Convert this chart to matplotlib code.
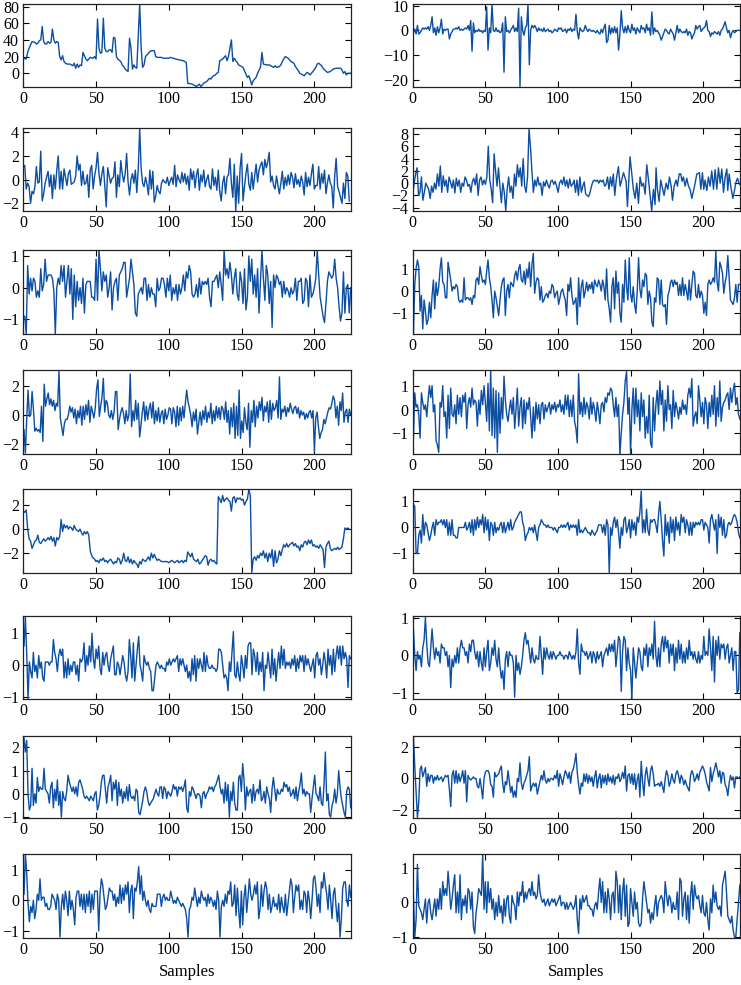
import numpy as np
import matplotlib
matplotlib.use('Agg')
import matplotlib.pyplot as plt
from matplotlib.ticker import MultipleLocator

LINE = '#0b4ea2'
FONT = 'Liberation Serif'

# ---- data (sample index, value) ----
l1 = [(0, 18), (2, 17), (3, 25), (4, 30), (6, 38), (8, 37), (9, 35), (10, 36), (11, 39), (12, 40),
      (13, 56), (14, 38), (15, 35), (16, 35), (17, 38), (18, 36), (19, 37), (20, 53), (21, 40), (22, 36),
      (23, 38), (24, 37), (25, 20), (26, 16), (27, 21), (28, 14), (29, 12), (30, 11), (32, 11), (33, 10),
      (34, 9), (35, 12), (36, 6), (37, 11), (38, 7), (39, 10), (40, 9), (41, 25), (43, 17), (44, 15),
      (46, 19), (48, 18), (49, 20), (50, 17), (51, 65), (52, 30), (53, 24), (54, 25), (55, 66), (56, 30),
      (57, 26), (58, 26), (59, 28), (60, 28), (61, 25), (62, 43), (63, 42), (64, 20), (65, 17), (67, 14),
      (68, 10), (69, 8), (70, 5), (72, 2), (73, 42), (74, 30), (75, 5), (76, 10), (77, 7), (78, 6),
      (80, 83), (81, 30), (82, 7), (83, 10), (84, 20), (85, 22), (87, 26), (88, 27), (90, 27), (91, 20),
      (92, 19), (95, 19), (96, 18), (100, 18), (101, 19), (103, 18), (105, 17), (107, 16), (110, 15), (111, 14),
      (112, 13), (113, -12), (116, -13), (118, -15), (119, -16), (121, -13), (122, -16), (124, -12), (126, -10), (128, -6),
      (129, -7), (130, -4), (132, -2), (133, 0), (134, 1), (135, 15), (137, 17), (138, 19), (139, 21), (140, 15),
      (141, 20), (143, 40), (144, 14), (145, 18), (146, 15), (147, 13), (148, 10), (150, 8), (151, 7), (152, 3),
      (154, -5), (155, -3), (156, -8), (157, -14), (158, -9), (160, -5), (161, 0), (163, 7), (164, 25), (165, 11),
      (167, 10), (169, 10), (170, 9), (172, 7), (173, 9), (174, 7), (176, 8), (177, 10), (178, 14), (180, 20),
      (182, 18), (184, 14), (186, 12), (187, 8), (189, 3), (190, 0), (192, -2), (193, -3), (195, 1), (196, 0),
      (197, -2), (198, 0), (199, 2), (201, 7), (202, 11), (203, 12), (205, 9), (206, 6), (207, 4), (209, 1),
      (211, 2), (213, 5), (215, 6), (218, 6), (219, 4), (220, 0), (221, 2), (222, -2), (223, 0), (225, 0)]

r1 = [-1, 0.5, -1.5, 2, -1.5, -1, 0, 1, 0.5, 1, 0.5, 1.5, 0, 2, 5.5, -1, 1, -2, 1.5, -1, 1, 4.5, -1.5,
      0.5, 0, 0.5, 0.5, -3.5, -1.5, -0.5, 0.5, 0.5, 1, 0.5, 1.5, 0, 0.5, 0, 0.5, 1, 0.5, 2, 0, 4, -8.5,
      3, -1, 0, -0.5, 0.5, -0.5, 0, -1, 0, -0.5, 9.5, -8, 1, -1, 10.5, 0, -0.5, 1, -0.5, 0, -1, -0.5, 3,
      -17, 5.5, -0.5, 0, -1, 0, 1, 2, -0.5, 1, -0.5, 9, -23, 5.5, 0, -2, 1, 2, 10.5, -14, 0, 2, 1, 2, 1,
      -0.5, 1, 0, 0.5, -0.5, 1, -0.5, 0, 0.5, -0.5, 0, -1, -0.5, 0.5, 0, -0.5, 1, 0.5, 1, -0.5, 0, 0.5,
      -1, 0.5, 0, 1, -0.5, 0.5, 0, 6.5, -0.5, -3.5, 1, 0, -0.5, 0, 2, 0.5, -0.5, 0.5, 0, -0.5, 0, -0.5,
      -1, 0, -1, -1.5, 0.5, -1, 1, 2.5, -5, -4, 2, -1.5, 1, -1, 1.5, -1, 1, -8, -1.5, 8, 1, -1, 1.5, -1,
      2, 0, -1, 2.5, 0, 1, -1.5, 1, 0, -1, 2, 0.5, 1, -1, 2.5, 0, 1, -2, 7.5, -1.5, 1, -0.5, 0, -1, -2,
      -4, -2.5, -1, 0.5, 0, -1, -1.5, 0.5, -0.5, -1.5, -4, -1, 2, -1, 0.5, -0.5, -1, -0.5, -1, 0.5, -2,
      -0.5, -1, -3.5, -2, -1, 2, 0.5, 1.5, 2, -0.5, 0.5, 1, 1.5, 4, 0, -0.5, -2.5, -1, -1.5, -0.5, -1,
      -1.5, -0.5, -2, 0, 0.5, 2, 3.5, 1, -1, 0, -3, -1, 0, -1, -0.5, 0, 0, 0]

l2 = [1.0, 1.2, -0.8, -0.3, -0.6, -2.0, -1.0, -1.2, -0.6, 1.1, -0.3, -0.2, 2.4, -1.8, -1.2, -0.3, 0.2, 0.7,
      -0.6, 0.4, -1.6, 0.4, -0.8, 0.8, 2.0, -0.8, 0.7, -0.8, 0.9, 0.2, -0.5, 0.5, 0.8, -0.4, -0.3, -0.2,
      0.3, 2.0, 0.8, 1.3, -0.5, 0.7, -0.4, -0.3, 0.4, -1.5, 0.8, 1.2, -0.8, 0.3, 1.0, 2.3, 0.5, -0.5, 0.5,
      1.1, -0.5, -2.3, 1.0, 0.3, -0.3, 0.1, 0.2, 1.5, -1.5, 0.4, -0.6, 1.6, 0.5, -0.2, 0.5, 2.2, -0.2,
      -1.3, 0.0, 0.5, -0.3, 0.8, -1.1, 0.9, 4.3, 0.9, -0.3, -0.6, 0.2, -0.4, -1.3, 0.8, -0.8, 0.7, -1.9,
      -1.4, -0.5, -1.0, -1.2, -0.3, 0.0, -0.2, -0.3, 0.2, -0.5, -0.1, 0.2, -0.4, 1.2, -0.6, 0.4, 0.0, -0.3,
      0.6, -0.2, 0.5, -0.4, 0.3, -0.9, 0.9, 0.0, 0.7, -0.7, 0.4, 0.9, -0.9, 0.4, -0.2, 0.8, -0.6, 0.0, 0.4,
      -0.6, -0.8, 0.9, -0.5, 0.2, -0.9, 0.8, -1.0, -1.8, -0.3, 0.3, -1.2, 0.2, 0.4, 1.8, -0.3, -1.5, 1.3,
      -2.7, 0.3, -2.0, 1.0, 2.2, -1.8, -0.6, 0.5, 1.3, -0.4, -0.9, 0.6, -0.8, 0.3, 1.3, -0.2, 0.8, 1.2, 1.5,
      0.4, 1.7, 1.0, 1.5, 2.3, -0.2, 0.3, -0.5, -0.8, 0.3, -0.5, -1.2, -0.3, 0.7, -0.8, 0.2, -0.5, 0.4,
      -0.4, 0.6, 0.2, -0.7, 0.5, -0.4, 0.0, -0.6, 0.3, -0.2, -1.3, 0.6, -0.6, 0.2, -0.5, 0.5, 1.3, -0.8,
      -0.5, -0.5, 1.1, -0.8, 0.5, -0.3, 0.8, -1.2, -0.3, 0.4, -0.3, -0.6, -2.4, 0.3, 1.8, -0.6, -1.0, -1.5,
      -2.0, -0.3, -1.6, 0.6, 0.3, -1.8]

r2_head = [-2, 0, 1.5, 2.5, -2, -1.5, 1, -2.8, -1.5, 0, -0.5, -1, -2.5, -0.5, -1.5, 0, -1, 1.5, -0.5, 2.8,
           -1.5, 1.2, -0.5, 0.5, -1.5, 1, 0.2, -0.8, 0.5, -1.6, 0.8, -0.5, 0.5, -1.5, 0, -0.5, 1, 0.5, -0.5,
           -0.2, -1.5, 0.2, 0.8, -0.3, 1.5, -2.0, 0.5, 1, -0.3, 0.5, -0.2, 1, 6, 0.5, -1.0, -3.2, 4.8, 2,
           -0.5, 2.5, -0.5, -3.2, 0, -1.5, -4.5, -1, 1, -1.5, -0.5, -2.5, 1.5, -0.5, 3, 1, 2.5, -0.5, 4,
           -0.5, -1.5, 1, 8.8, 6, 2, -1.5, 0.5, -0.5, 1, -0.3, 0, -2, 0.2, -0.5, 0.5, -0.3, -0.8, 0.3, 0.5,
           -0.2, 0.3, -0.5, -1.5, 0, 0.5, -0.2, 1, -0.5, 0.5, -0.8, 0.7, -0.5, -0.2, 0.5, -1.5, 0.5, -2, 1,
           -1.5, -0.5, 0.2, -1.8, -2, -2.2, -1.5, -0.5, 0.3, 0.5, 0.3, 0.5, 0, 0.5, 0.2, 0.5, -0.5, -0.2, 1,
           -1, 1, -0.5, 1.5, -2, 0.5]
r2_tail = [(141.5, 2.7), (142.7, -0.5), (145, 1.7), (146.8, 0.3), (147.7, -3.8), (149.5, 4.3), (150.9, 1.0),
           (151.8, -1.0), (153, -2.5), (154.1, 0), (155.3, -3.3), (156.4, 1.0), (157.6, -0.5), (158.7, 0),
           (159.9, -1.8), (161, 3.0), (162.2, 0.5), (163.3, -2.0), (164.4, -4.5), (165.6, -1.0), (166.7, -3.5),
           (167.4, 2.5), (168.3, -1.0), (169.5, -3), (170.6, 0.5), (172, -1.0), (172.9, -2), (174.3, 0),
           (175.5, -1), (176.6, 1.0), (177.8, -0.5), (178.7, -2.8), (179.8, -0.5), (181.2, 0.5), (182.1, -0.5),
           (183.3, 1.5), (184.4, 1.5), (185.3, 0.3), (186.2, 1.0), (187.4, -0.5), (188.5, 0.8), (189.7, -0.5),
           (190.8, -1.0), (192, -2.5), (193.1, -1.3), (194.3, 0), (195.4, 1.5), (196.6, 1.6), (197.2, 1.7),
           (198.2, -1.0), (199.3, 1.7), (200.2, -1.0), (201.1, 0.5), (202.3, -1.2), (203.4, 1.0), (204.6, -0.5),
           (205.7, 2), (206.9, -1.0), (208, 2.2), (209.2, -1.0), (210.3, 2.5), (211.5, 0), (212.6, 2.3),
           (213.8, -1.5), (214.9, 1), (216.1, 2.3), (216.7, -1.2), (217.7, 1.5), (218.8, -0.5), (220.2, -2.5),
           (221.1, -1.5), (222.2, 0), (223.4, 0.8), (224.8, -0.2)]

l3 = [-0.9, -0.9, -1.46, 0.7, -0.2, 0.3, -0.1, 0.3, 0.2, -0.3, -0.1, -0.3, 0.6, -0.1, 0.1, 0.9, 0.2, 0.4,
      0.4, 0.4, 0.3, -0.1, -1.46, 0.0, 0.3, 0.1, 0.7, 0.2, 0.7, -0.3, 0.2, 0.7, -0.2, 0.6, -1.0, 0.4, -0.6,
      0.2, -0.4, 0.0, -0.5, 0.3, -0.8, 0.1, 0.2, 0.2, 0.2, -0.3, -0.3, -0.4, 0.9, -0.4, 1.19, 0.6, -0.1,
      0.5, 0.2, 0.4, -0.3, 0.0, 0.5, -0.7, 0.0, 0.2, 0.3, -0.4, 0.4, 0.5, 0.6, 0.8, 0.8, -0.3, 0.0, 0.3,
      0.9, 0.5, 0.1, -0.8, -0.9, -0.2, -0.1, 0.0, -0.2, 0.3, 0.3, -0.4, 0.1, -0.3, 0.0, -0.2, -0.2, -0.6,
      0.3, -0.1, 0.0, 0.3, 0.3, 0.1, -0.3, 0.3, -0.1, 0.4, -0.4, 0.0, -0.2, 0.1, -0.4, 0.1, -0.2, 0.0, 0.4,
      -0.1, 0.5, 0.3, 0.7, 0.5, -0.2, -0.3, -0.2, 0.1, -0.3, 0.3, -0.2, 0.2, 0.1, 0.2, 0.1, 0.3, -0.3, -0.6,
      0.2, 0.2, 0.3, 0.4, 0.0, 0.5, 0.1, -0.4, 1.19, 0.4, 0.6, 0.3, 0.8, 0.4, -0.2, 0.3, 0.6, -0.2, -0.4,
      0.5, 0.2, -0.5, 0.6, -0.7, -0.3, 1.0, 0.2, 0.9, -0.2, 0.4, -0.3, 0.6, -0.8, 0.2, 1.19, 0.3, -0.4, 0.7,
      0.4, -0.5, 0.2, -1.25, 0.4, 0.0, 0.4, 0.3, 0.1, 0.2, -0.3, 0.2, -0.2, 0.0, -0.1, -0.3, 0.0, -0.2,
      -0.1, 0.3, -0.4, 0.2, 0.2, 0.3, -0.5, -0.4, 0.3, 0.2, -0.6, 0.4, -0.3, -0.2, 0.0, 0.3, 1.19, 0.4,
      -0.3, -0.6, -0.9, -1.1, -0.5, 0.2, 0.5, 0.4, 0.3, 0.4, 0.9, 0.3, 0.0, -0.6, -1.05, -0.8, 0.5, -0.8,
      0.0, 0.1, -0.8, 0.0]

r3 = [-1.9, 0.3, 1.0, 1.4, 1.1, -0.9, -0.2, -1.7, -0.4, -0.9, -1.5, -1.3, -0.5, -1.2, -0.2, 0.5, -0.8, 0.4,
      -0.2, 0.2, 1.0, 1.5, 0.4, 0.3, -0.3, -0.3, 1.3, 0.9, 0.5, 0.0, 0.2, 0.1, 0.3, 0.2, -0.4, -0.5, -0.4,
      -0.5, 0.6, -0.4, -0.3, -0.3, -0.4, -0.3, -0.6, -0.2, -0.3, 0.5, 0.6, 0.3, 1.1, 0.7, 0.4, 0.5, 0.3,
      0.9, 1.4, 0.6, 0.2, -0.4, -1.2, 0.0, -0.3, -0.7, -1.1, -0.4, 0.2, 0.5, 0.6, -1.1, 0.0, 0.3, -0.3,
      0.4, 0.3, 0.2, 0.7, 0.9, 0.5, 1.0, 1.2, 0.5, 0.4, 0.9, 0.3, 1.0, 0.6, 1.3, 0.2, 1.2, 1.7, -0.1, 0.4,
      0.6, 0.5, -0.4, 0.2, -0.5, -0.4, -0.2, -0.1, -0.3, 0.0, -0.1, 0.3, 0.2, -0.3, -0.1, 0.0, -0.6, -0.3,
      0.0, 0.1, -0.2, -0.4, -1.1, 0.3, 0.0, 0.6, -0.2, -0.6, -0.5, -0.3, -1.5, 0.6, -0.7, 0.2, 0.5, -0.3,
      0.0, 0.4, 0.0, 0.3, 0.1, 0.4, -0.1, 0.5, 0.3, 0.2, 0.5, 0.3, 0.0, 0.5, 0.2, -0.4, 1.0, -0.4, -0.8,
      -1.4, 0.2, 0.6, -0.8, 0.9, -0.1, 0.4, -1.0, -1.4, 0.3, -0.5, 1.4, 0.2, -0.4, 1.5, -0.1, -0.5, 0.2,
      -0.6, -1.0, 0.0, 1.5, 0.1, -0.3, 0.5, 0.2, 0.8, 0.7, -0.6, 0.0, -0.3, -1.4, -1.6, -0.3, -0.5, 0.6,
      0.5, -0.6, 0.5, -0.6, -0.7, -0.6, -1.5, -0.2, 0.0, 0.4, 0.5, 0.2, 0.5, 0.3, 0.4, -0.2, 0.3, -0.2,
      0.6, -0.2, 0.3, 0.0, -0.4, 0.5, -0.4, 0.3, 0.9, 0.8, -0.2, -0.3, 0.3, -0.3, 0.0, -0.2, -1.0, -0.5,
      -1.1, 0.3, 0.5, 0.3, 0.4, 0.6, 0.4, 1.8, 0.4, 0.0, 1.3, 1.1, 0.8, -0.1, 0.4, 0.7, 1.6, 0.6, -0.4,
      -0.5, -0.6, -0.3, 0.3, -0.5, 0.3, 0.3]

l4 = [-1.0, -2.6, -0.3, 1.7, -0.1, 0.0, 1.6, 0.4, -1.1, -0.9, -1.1, -1.0, -1.2, 0.6, -1.8, 2.1, 0.6, 1.1,
      1.5, 0.7, 1.1, 0.6, 1.0, 0.3, 0.8, 0.6, 3.0, -0.2, -0.8, -1.4, -0.6, -0.3, -0.3, 0.0, 0.6, 0.2, 0.5,
      -0.2, 0.4, -0.6, 0.3, -0.2, 0.6, -0.7, 0.6, -0.3, 0.7, 0.0, 1.0, -0.5, 0.6, 0.2, -0.2, 0.5, 1.8, 2.4,
      -0.1, 0.6, 1.2, 2.5, 0.2, 1.0, 0.8, 0.0, -0.2, 0.3, -0.3, 0.2, 1.6, 1.6, -1.0, -0.3, 0.2, 0.5, 0.1,
      -0.6, 0.3, -0.4, 0.0, 2.8, -0.8, 0.3, -0.4, 1.0, -0.3, 0.8, -1.5, -0.7, 0.2, 0.9, -0.4, 0.6, -0.3,
      0.4, 0.8, -0.2, 0.9, -0.6, 0.3, -0.4, 0.5, -0.5, 0.1, 0.3, -0.6, 0.4, -0.3, 0.0, 0.5, 0.4, -0.6, 0.5,
      0.2, -0.8, 0.6, -0.7, 0.5, -0.4, 0.6, -0.2, 0.8, 1.7, 0.9, 0.5, 0.0, -0.8, 0.2, -0.4, 0.4, -1.3, -0.5,
      0.2, -0.7, 0.3, -0.3, 0.6, -0.5, 0.2, -0.2, 0.8, -0.6, 0.3, -0.4, 0.6, -0.2, 0.5, -0.3, 0.6, 0.4,
      -0.3, 0.9, -0.5, 0.3, -1.3, 0.5, -0.8, 0.8, -1.6, 0.6, -1.4, 1.7, -1.6, -0.4, -1.2, 0.5, -0.5, -1.0,
      0.8, -2.2, 0.3, -0.5, 1.0, -0.8, 0.6, -0.2, 0.9, 0.3, 1.2, -0.4, 0.6, 0.2, 0.9, -0.5, 1.0, -0.3, 0.8,
      0.3, 0.5, 1.0, -0.2, 2.6, -0.3, 0.4, 0.2, 0.6, -0.1, 0.5, 0.2, 0.8, 0.4, 0.1, 0.5, 0.6, 0.1, 0.5,
      -0.2, 0.3, 0.0, 0.2, -0.3, 0.1, -0.2, 0.2, 0.3, -0.2, 0.3, -2.5, -0.2, 0.2, -0.8, -1.6, -1.2, -1.0,
      -0.3, -0.6, -0.2, 0.2, 0.5, 0.4, 0.8, 1.3, 1.0, -0.2, 0.6, -0.7, 0.9, 0.3, 1.5, -0.5, 0.2, 0.4, -0.5,
      0.4, 0.0]

r4 = [-1.2, 0.7, 0.1, 0.2, -0.2, -1.2, 0.7, 0.3, 0.0, 0.2, -0.3, 0.4, 1.0, 0.5, 1.0, -0.1, 0.2, -1.3, -1.5,
      -1.8, 0.3, 0.1, 1.0, -0.3, -0.1, -1.2, 0.6, -0.8, 0.9, -0.2, -0.3, 0.2, -0.6, 0.6, -0.2, 0.5, -0.3,
      0.6, 0.3, 0.7, -0.8, 0.2, 0.5, 0.1, 0.9, 0.2, 0.4, 0.3, -0.7, 0.4, -0.2, 0.8, 0.2, 1.0, 0.3, -0.5,
      1.1, -0.9, 1.7, -1.1, 0.9, -1.2, 0.8, -1.8, 0.7, -1.0, 0.5, -0.4, 1.4, 0.4, -0.2, -0.5, 0.0, 0.4,
      -0.2, 0.5, -0.8, 0.0, 0.9, -0.7, 0.1, 0.5, -0.8, 0.4, -0.6, 0.3, 0.0, 0.5, -0.3, -1.2, 0.1, -0.9, 0.3,
      -0.4, 0.2, -0.6, 0.2, 0.3, -0.4, 0.2, -0.1, 0.1, 0.3, -0.2, 0.2, 0.0, 0.3, -0.1, 0.2, 0.1, 0.4, -0.1,
      0.2, -0.2, 0.6, 0.0, 0.6, -0.3, 0.4, -0.3, 0.6, -0.5, -0.8, -1.4, 1.5, -0.2, 0.3, -0.3, 0.5, -0.2,
      0.3, 0.1, -0.4, 0.5, -0.2, 0.3, 0.0, -0.5, 0.3, -0.1, -0.6, 0.2, 0.3, -0.1, 0.5, 0.3, 0.7, 0.6, 0.9,
      0.8, 0.2, -0.3, 0.5, -0.3, 0.2, -1.9, -1.0, -0.2, 0.3, 1.2, 1.6, -0.2, 0.5, -1.9, 0.0, 0.9, -0.6, 0.9,
      -0.3, 0.4, -0.9, 0.7, -0.3, 0.4, -1.2, -0.3, -1.0, 0.6, -1.4, -1.6, 0.5, -0.9, 0.2, 0.8, -0.2, 1.2,
      0.2, 0.8, -0.9, 0.4, -0.5, 1.0, 0.0, 0.2, -0.8, 0.8, -0.3, 0.3, 0.0, -0.4, 0.1, -0.2, 0.4, 0.0, 0.2,
      -0.2, 0.6, 0.9, 0.5, 1.3, -0.7, -0.3, -0.1, -0.6, 1.0, 0.4, -0.3, 0.3, -0.6, 0.5, 0.2, -0.8, 0.3,
      -0.3, 0.6, -0.2, 1.0, -0.7, 0.5, -0.3, 1.2, -0.5, 0.1, 0.3, 0.4, 0.6, 0.7, 0.0, 0.9, 0.3, 0.8, 1.1,
      0.2, 0.5, -0.2, -0.4]

l5 = [1.5, 1.4, 1.6, 0.0, -0.8, -1.0, -1.6, -1.3, -1.0, -0.9, -0.5, -1.1, -1.2, -1.0, -0.8, -1.0, -0.9,
      -0.7, -0.9, -0.6, -1.0, -0.7, -1.4, -0.7, -0.9, -0.6, 0.8, -0.2, 0.4, 0.1, 0.3, 0.0, 0.2, 0.1, -0.1,
      0.3, 0.0, -0.1, -0.2, 0.0, -0.3, -0.5, -0.2, -0.4, -0.2, -0.5, -1.8, -2.2, -2.4, -2.5, -2.7, -2.6,
      -2.8, -2.5, -2.6, -2.4, -2.7, -2.6, -2.8, -2.6, -2.5, -2.7, -2.9, -2.7, -2.8, -2.4, -2.5, -2.9, -2.6,
      -2.0, -2.6, -2.7, -2.3, -2.8, -2.5, -2.9, -2.6, -2.8, -2.9, -3.2, -2.7, -2.9, -2.5, -2.6, -2.7, -2.5,
      -2.3, -2.6, -2.0, -2.4, -2.1, -2.4, -2.6, -2.5, -2.6, -2.7, -2.7, -2.7, -2.7, -2.7, -2.8, -2.7, -2.6,
      -2.7, -2.8, -2.7, -2.6, -2.8, -2.7, -2.6, -2.8, -2.6, -2.7, -1.9, -2.1, -2.3, -2.0, -2.5, -2.6, -2.7,
      -2.5, -2.9, -2.8, -2.6, -2.4, -2.2, -2.3, -3.0, -2.6, -2.5, -2.7, -2.6, -2.8, -2.9, 2.7, 2.5, 2.2,
      2.8, 2.3, 2.5, 2.6, 2.4, 2.3, 1.5, 2.6, 2.7, 2.2, 2.6, 2.5, 2.6, 2.4, 2.5, 2.0, 2.3, 2.5, 3.3, 2.8,
      -3.6, -2.5, -2.3, -2.6, -2.2, -2.4, -2.0, -2.2, -1.8, -2.4, -2.0, -2.7, -2.0, -2.4, -1.7, -3.1, -1.8,
      -2.8, -2.5, -1.8, -2.2, -1.7, -1.3, -1.5, -1.2, -1.5, -1.3, -1.2, -1.1, -1.4, -1.2, -1.5, -1.4, -1.8,
      -1.3, -1.5, -1.1, -1.0, -1.3, -0.9, -1.2, -0.9, -1.4, -1.3, -1.5, -1.4, -1.6, -1.3, -1.5, -1.7, -3.2,
      -1.5, -1.2, -1.0, -1.6, -1.8, -1.7, -1.6, -1.7, -1.5, -1.7, -1.6, -1.5, -0.8, 0.1, 0.0, 0.1, 0.0]

r5 = [0.9, 0.8, -1.0, -1.0, -0.3, -0.1, -0.6, 0.5, -0.3, 0.2, 0.1, -0.2, -0.5, -0.3, 0.0, 0.2, -0.3, 0.3,
      0.1, 0.2, 0.2, 0.3, 0.1, 0.3, 0.0, 0.3, -0.3, 0.2, -0.3, 0.3, -0.3, -0.3, -0.4, -0.4, 0.0, 0.0, 0.0,
      0.0, 0.0, 0.2, -0.1, 0.0, 0.2, -0.2, 0.3, -0.3, 0.3, -0.1, 0.4, 0.0, 0.3, 0.1, 0.5, -0.2, 0.4, -0.1,
      0.3, -0.5, 0.2, 0.1, -0.3, 0.2, -0.2, 0.0, -0.1, 0.1, 0.2, -0.2, 0.2, -0.2, 0.0, 0.2, -0.1, 0.3,
      -0.1, 0.0, 0.2, 0.3, 0.4, 0.5, 0.6, 0.6, 0.2, 0.0, -0.5, -0.3, -0.2, 0.0, -0.1, 0.0, -0.2, 0.1, -0.2,
      -0.5, 0.0, 0.1, 0.3, 0.2, 0.1, 0.1, 0.0, 0.1, 0.0, 0.0, 0.0, -0.1, 0.0, -0.1, -0.2, 0.0, 0.0, 0.1,
      0.0, 0.1, 0.0, 0.1, 0.2, -0.1, 0.1, 0.0, 0.1, 0.0, 0.1, -0.3, 0.3, -0.2, -0.1, -0.2, -0.1, 0.0, -0.1,
      -0.2, -0.2, -0.3, -0.1, -0.2, -0.3, -0.2, -0.1, 0.1, 0.1, 0.1, -0.2, 0.1, -0.3, 0.3, 0.1, -1.75, 0.0,
      -0.3, 0.2, 0.4, 0.0, 0.3, -0.2, -0.8, 0.0, -0.3, 0.3, 0.4, -0.2, 0.0, 0.3, -0.4, 0.3, -0.1, 0.2, -0.3,
      0.4, 0.2, 0.6, 1.4, -0.2, 0.3, -0.2, 0.7, -0.1, -0.3, 0.3, 0.2, 0.3, 0.3, 0.1, -0.2, 0.5, 1.0, 0.3,
      -0.5, -1.1, 0.5, -0.3, 0.2, -0.6, 0.4, -0.2, 0.3, -0.5, 0.4, -0.1, 0.2, -0.3, 0.5, 0.2, 0.4, -0.2,
      0.3, 0.1, -0.3, 0.2, -0.3, 0.2, 0.0, 0.2, 0.1, 0.2, 0.1, 0.3, 0.3, -0.1, 0.2, 0.1, 0.0, -0.6, 0.3,
      0.5, 0.2, -0.1, 0.3, -1.0, 0.5, 0.0, 0.4, -0.3, 0.3, -0.4, -0.3, 0.1, 0.2, 0.1, 0.2, 0.4, 0.5, 0.4,
      0.2, -0.2, -0.4]

l6 = [0.6, 1.5, 0.4, -1.05, 0.1, -0.2, -0.4, 0.4, -0.2, 0.0, -0.4, 0.3, -0.1, 0.1, -0.4, -0.5, 0.1, 0.1,
      0.1, 0.0, 0.1, 0.1, 0.8, 0.4, 0.2, -0.2, 0.3, 0.5, 0.3, 0.5, -0.4, 0.1, -0.4, 0.2, -0.3, 0.0, -0.2,
      0.1, 0.1, -0.3, 0.0, -0.5, 0.2, 0.1, 0.2, 0.7, -0.2, 0.3, 0.0, 0.6, 0.1, 1.0, 0.2, -0.1, 0.5, 0.2,
      0.6, -0.1, -0.3, 0.4, 0.0, 0.3, 0.4, 0.0, -0.2, 0.2, 0.4, 0.6, -0.3, -0.3, 0.1, 0.0, -0.3, 0.0, 0.3,
      0.1, -0.3, -0.5, -0.2, 0.8, 0.3, -0.4, 0.7, -0.5, 0.0, 0.5, 0.9, 0.0, -0.2, -0.5, 0.3, 0.1, 0.0, 0.1,
      -0.1, -0.2, -0.8, -0.8, -0.4, 0.0, 0.1, 0.0, -0.1, 0.0, -0.1, -0.1, -0.2, 0.1, 0.0, 0.2, 0.0, 0.1,
      0.2, 0.1, 0.2, 0.3, -0.2, 0.2, 0.0, 0.2, 0.0, -0.2, 0.0, -0.4, -0.2, -0.5, 0.2, -0.3, 0.3, -0.5, 0.2,
      -0.1, 0.2, 0.0, -0.2, 0.4, -0.2, 0.3, 0.0, -0.1, -0.1, 0.0, -0.1, -0.1, -0.2, -0.1, 0.5, 0.5, 0.4,
      0.0, -0.4, -0.3, -0.4, -0.8, 0.1, -0.2, 0.4, 1.05, -0.3, -0.4, 0.1, -0.3, -0.5, 0.3, 0.0, -0.4, 0.3,
      -0.1, 0.6, 0.7, 0.7, -0.3, 0.5, 0.3, -0.2, 0.4, -0.3, 0.1, -0.2, 0.4, -0.8, 0.0, -0.1, 0.4, 0.0,
      -0.4, 0.5, -0.3, 0.2, -0.5, 0.0, 0.4, -0.1, 0.6, 0.0, 0.5, -0.1, 0.1, 0.0, 0.1, -0.1, 0.2, 0.0, 0.3,
      -0.2, 0.2, -0.1, 0.3, 0.1, 0.3, -0.2, 0.3, 0.0, 0.2, 0.0, -0.2, 0.0, 0.2, -0.4, 0.3, 0.4, 0.0, 0.2,
      -0.3, 0.0, 0.4, 0.1, -0.4, 0.5, 0.0, 0.3, -0.3, 0.5, -0.2, 0.3, 0.6, 0.2, 0.6, 0.0, 0.6, 0.2, 0.4,
      0.2, -0.7, 0.3, 0.2]

r6 = [0.7, 0.0, -0.4, 0.1, -0.1, 0.0, -0.3, 0.2, 0.4, 1.0, 0.3, -0.2, -0.3, 0.2, 0.7, 0.2, -0.1, 0.2, 0.0,
      0.1, -0.2, 0.3, 0.2, 0.2, 0.0, 0.1, -0.3, 0.0, -0.85, -0.1, -0.3, 0.0, -0.2, 0.2, -0.2, 0.2, 0.4,
      0.2, 0.2, 0.0, 0.1, -0.2, 0.3, 0.1, 0.4, 0.4, 0.1, -0.1, 0.1, -0.3, 0.1, -0.2, -0.4, 0.2, -0.3, 0.1,
      0.4, -0.4, -0.2, 0.2, 0.0, 0.4, -0.1, -0.3, 0.2, -0.3, -0.6, -0.4, -0.9, -0.1, 0.1, -0.3, 0.1, 0.0,
      0.0, -0.2, -1.1, 0.0, -0.4, -0.2, -0.5, -0.3, 0.0, 0.4, 0.6, 0.3, 0.4, 0.1, -0.2, 0.2, -0.1, -0.2,
      0.0, -0.1, -0.1, 0.5, 0.0, -0.5, 0.2, -0.1, 0.2, 0.0, -0.1, 0.1, -0.1, 0.1, 0.0, -0.1, 0.0, 0.0,
      0.1, 0.0, 0.0, -0.1, 0.0, 0.0, -0.1, 0.1, 0.0, -0.1, 0.0, -0.1, 0.1, 0.7, -0.2, -0.5, 0.3, 0.1, 0.1,
      0.0, 0.1, -0.1, 0.0, 0.1, -0.2, 0.1, 0.0, -0.2, 0.1, -0.1, 0.0, 0.1, -0.3, 0.0, 0.1, 0.2, 0.0, 0.3,
      0.1, 0.3, 0.1, 0.4, -0.3, 0.1, 0.5, 0.4, -0.95, 0.1, 0.5, 0.4, -0.4, 0.2, -0.2, -0.4, -1.15, 0.2,
      -0.2, -0.6, -0.2, 0.2, 0.1, -0.3, -0.4, 0.2, 0.0, 0.3, -0.3, 0.2, 0.0, 0.3, -0.1, 0.9, 0.0, -0.3,
      0.2, -0.3, 0.3, 0.5, 0.1, 0.5, 0.2, 0.4, -0.2, 0.3, 0.0, 0.3, -0.4, 0.2, -0.2, 0.4, -0.1, 0.3, -0.2,
      0.1, -0.2, 0.2, -0.1, 0.4, 0.0, 0.1, -0.1, 0.1, -0.1, -0.2, 0.1, -0.2, 0.0, -0.1, 0.5, 0.0, 0.1, 0.0,
      0.7, 0.2, -0.4, 0.5, -0.7, 0.4, 0.0, 0.5, -0.1, 0.3, 0.2, 0.3, -0.1, 0.2, 0.3, -0.2, 0.0, 0.2, -0.4,
      0.1, 0.1, -1.0, -0.9, 0.6]

l7 = [2.4, 1.8, 2.3, 0.0, -0.7, -0.5, 1.1, -0.5, 0.0, -0.4, 0.7, 0.1, 0.3, 0.2, 0.2, 1.1, 0.2, 0.1, 0.0,
      -0.4, 0.3, 0.5, -0.6, 0.2, -0.3, 0.6, -0.5, 0.1, -1.0, 0.1, -0.2, -0.3, 0.1, 0.8, 0.5, 0.3, 0.1, 0.3,
      0.0, 0.3, -0.1, 0.5, 0.6, 0.4, 0.2, -0.1, -0.2, -0.1, -0.2, -0.3, -0.1, -0.2, -0.3, 0.0, 0.1, -0.7,
      -0.5, -0.1, 0.5, 0.8, 0.8, 0.2, -0.4, 0.3, 0.5, 0.8, -0.3, 0.5, 0.2, 0.6, -0.5, 0.5, -0.1, 0.2, -0.4,
      0.1, -0.2, 0.3, -0.3, 0.4, -0.1, -0.2, -0.1, -0.3, 0.2, 0.1, -0.8, -0.9, -0.6, -0.3, 0.1, 0.3, 0.1,
      -0.3, -0.5, -0.4, -0.3, -0.2, 0.0, 0.2, 0.0, -0.1, 0.3, 0.3, -0.2, 0.3, 0.2, -0.2, 0.1, 0.0, -0.1,
      0.1, 0.4, 0.2, 0.3, -0.1, 0.3, 0.2, 0.3, 0.1, 0.3, 0.6, -0.6, -0.8, 0.1, -0.1, 0.3, 0.2, 0.0, -0.2,
      0.0, 0.0, -0.1, -0.6, 0.0, 0.1, -0.2, 0.0, 0.1, 0.3, 0.2, 0.3, 0.1, 0.3, 0.4, 0.6, 0.8, 0.3, 0.0,
      0.2, -0.4, 0.5, -0.3, 0.4, -1.0, 0.1, -0.3, 0.5, -0.4, -0.7, -0.7, 0.7, 0.8, 0.1, 1.3, 0.6, -0.7,
      0.3, -0.1, 0.1, 0.2, -0.4, 0.4, -0.3, 0.1, 0.2, 0.0, 0.6, -0.3, -0.2, 0.1, -0.4, 0.3, 0.0, -0.2,
      -0.8, 0.2, 0.7, 0.2, -0.3, 0.2, 0.0, 0.0, 0.2, 0.1, 0.5, 0.3, 0.4, 0.1, 0.3, -0.1, 0.0, 0.2, -0.2,
      0.3, -0.3, 0.1, 0.4, 0.9, 0.0, 0.2, -0.1, 0.1, 0.0, 0.0, -0.8, -0.2, 0.3, 0.8, 0.0, -0.1, -0.3, 0.3,
      -0.4, -0.5, 0.4, 1.8, -0.3, 0.0, -0.9, -1.0, -0.5, -0.3, 0.2, -0.4, 0.0, 1.0, 0.3, -0.2, -0.5, -0.8,
      -1.0, 0.1, 0.3, 0.2, -0.6]

r7 = [2.7, 0.8, -0.9, -2.5, -1.5, 0.6, 0.8, 0.1, 0.4, 0.7, -0.5, 0.3, -0.2, 0.2, 0.2, -0.3, 0.1, -0.1, 0.2,
      -0.1, 0.0, 0.1, -0.2, 0.0, 0.2, 0.1, 0.2, -0.7, -1.8, 0.2, 0.5, -0.3, 0.5, -0.3, 0.3, -0.2, 0.1, 0.5,
      -0.3, 0.5, -1.5, 0.2, 0.0, -0.1, 0.0, 0.1, 0.0, 0.0, -0.5, -0.6, 0.0, -0.6, -1.3, 0.0, 0.4, 0.5, 0.5,
      0.3, -0.4, -0.5, -1.2, 0.4, 0.1, 0.2, 0.3, 0.6, 0.8, -0.3, -0.9, -0.2, -0.4, 0.5, -0.2, -0.9, -0.5,
      -1.2, -0.8, -1.2, 0.0, -0.2, 1.0, -0.3, -0.7, -0.3, -0.1, 0.2, 0.5, 1.4, -0.8, -0.5, -0.3, -0.5, -0.3,
      -1.0, -0.6, -0.2, 0.2, -0.1, 0.5, -0.1, -0.3, 0.0, -0.2, 0.0, 0.0, -0.1, 0.2, 0.0, 0.5, -0.5, 0.3,
      0.0, -0.4, 0.1, 0.5, 0.3, 0.0, 0.4, -0.3, 0.4, 0.6, 1.0, 1.6, 0.4, -0.4, -1.0, -0.3, -0.5, 0.3, -0.2,
      0.3, -0.3, 0.2, -0.2, 0.1, -0.5, 0.1, 0.5, -0.6, 0.0, 0.3, -0.6, 0.2, -0.3, 0.2, -0.4, 0.3, -0.2,
      0.1, -0.3, 0.2, -0.4, 0.1, 0.0, 0.3, -0.2, 0.0, 0.4, 0.0, 0.8, -0.8, 0.2, 0.3, -0.3, 0.3, -0.4, 0.3,
      -0.7, -0.1, 0.3, -1.2, 1.1, -0.2, -1.1, 0.2, 0.7, 0.0, -0.5, 0.5, 0.8, 0.3, -0.5, -0.4, -0.4, -0.3,
      -0.5, -0.2, -0.5, -0.9, 0.0, 0.5, 0.2, -0.5, -0.2, 0.3, -0.1, -0.3, 0.3, 0.5, 0.2, -0.3, 0.2, 0.0,
      -0.4, -0.1, -0.4, -0.6, -0.8, 0.2, 0.5, 0.3, -0.2, 0.0, 0.3, -0.1, 0.4, 0.6, 0.8, 0.6, 0.3, -0.2,
      -0.5, -0.8, 0.7, -0.2, 0.3, 0.6, 1.0, 0.6, 0.1, 0.5, -0.3, 0.4, 0.3, -0.4, -0.6, -1.1, -0.3, 0.2,
      -0.1, 0.1, -0.6, 0.1, 0.1, 0.0, 0.1]

l8 = [0.2, 1.5, 0.9, -0.1, -0.7, -0.2, -0.4, 0.0, -0.6, -0.3, 0.2, 0.0, 0.7, 0.0, 0.1, 0.1, -0.2, -0.1,
      -0.3, -0.3, -0.2, 0.2, 0.1, 0.0, -0.3, 0.2, 0.0, -1.2, -0.2, 0.2, -0.3, 0.3, 0.0, -0.5, 0.3, -0.3,
      0.0, -0.3, -0.8, 0.1, 0.3, 0.3, -0.2, 0.2, -0.3, 0.2, -0.4, 0.2, -0.2, 0.3, -0.4, 0.2, -0.3, 0.3,
      0.3, 0.3, -1.0, 0.2, 0.7, 0.5, 0.1, -0.3, -0.2, 0.1, 0.4, 0.3, 0.3, 0.0, 0.2, -0.2, 0.1, -0.1, 0.5,
      -0.1, 0.4, 0.0, 0.5, 0.2, 0.6, -0.4, 0.3, 0.5, -0.6, 0.4, 0.3, 0.6, 1.1, 0.2, 0.8, 0.0, 0.3, 0.0,
      -0.2, 0.0, -0.3, -0.4, -0.1, -0.2, -0.2, -0.2, 0.2, 0.2, 0.2, -0.2, 0.1, 0.2, 0.0, 0.1, 0.0, 0.0, 0.3,
      0.1, -0.1, 0.0, -0.1, 0.1, 0.0, -0.1, -0.2, -0.1, -0.2, -0.3, -0.6, -1.2, -0.3, -0.2, 0.1, 0.0, 0.4,
      0.1, -0.2, 0.1, -0.1, 0.3, 0.1, 0.0, 0.1, -0.2, 0.2, -0.1, 0.1, 0.0, -0.2, 0.0, -0.3, 0.3, 0.0, -1.2,
      -0.2, 0.0, -0.2, 0.2, -0.1, 0.3, 0.2, 0.6, -0.2, -0.1, 0.5, -0.5, 0.4, -0.3, -0.9, 0.3, -0.8, 0.1,
      0.5, -0.4, 0.1, 0.7, 0.2, 0.0, 0.2, 0.5, 0.2, 0.6, -0.6, -0.3, 0.5, -0.2, 0.3, 0.6, 0.4, -0.3, 0.2,
      -0.4, -0.2, 0.1, -0.2, -0.1, -0.3, 0.2, -0.4, 0.1, -0.2, -0.4, 0.2, -0.5, -0.1, 0.3, 0.7, 0.5, -0.4,
      0.1, 0.5, 0.3, 0.5, -0.3, 0.0, -0.3, 0.3, 0.2, -0.4, 0.3, 0.0, -0.6, 0.0, 0.7, 0.8, 0.4, -0.2, 0.2,
      -0.4, 0.6, 0.4, 0.9, 0.5, 0.2, -0.3, 0.5, 0.0, -0.6, 0.2, 0.4, -0.2, -0.7, -0.1, -1.2, -0.6, 0.4,
      0.6, 0.6, 0.0, -0.2, 0.5, 0.1]

r8 = [0.2, -1.0, -0.5, 1.1, -0.1, -0.2, -0.3, -0.5, -0.2, 0.1, -0.6, 0.0, 0.1, -0.3, -0.5, -0.2, 0.1,
      -0.4, 0.1, -0.2, 0.4, -0.2, 0.6, 0.2, 0.4, 0.2, 0.9, 0.4, -0.2, 0.1, 0.5, 0.8, -0.3, 0.3, -0.3, 0.8,
      -0.5, 0.1, -0.1, 0.2, -0.3, 0.4, 0.3, -0.2, 0.3, -0.7, -0.9, -0.3, 0.0, 0.4, 0.3, 0.2, 1.4, -0.2,
      0.6, -0.3, 0.6, 0.0, 0.4, -0.2, 0.1, -0.5, 0.0, -0.4, 0.2, -0.3, -0.1, -0.6, 0.1, -0.4, 0.1, 0.2,
      -0.4, -0.6, 0.2, 0.0, -0.1, -0.5, 0.3, -0.1, 0.3, 0.2, 0.6, 0.0, 0.3, 0.1, 0.3, 0.4, 0.2, 0.6, 0.2,
      0.3, 0.1, 0.2, 0.8, 0.3, 0.1, 0.0, 0.1, -0.1, 0.0, 0.1, -0.1, 0.0, 0.1, 0.0, 0.1, -0.1, 0.0, 0.1,
      0.2, -0.1, 0.0, 0.0, -0.2, 0.0, -0.2, -0.1, 0.0, -0.1, -0.2, -0.1, 0.2, -0.5, -0.9, 0.1, -0.2, 0.2,
      0.0, 0.1, 0.2, -0.1, -0.1, -0.2, -0.2, -0.4, -0.1, 0.0, -0.2, 0.3, 0.7, 0.0, 0.6, -0.3, 0.3, -0.3,
      0.4, 0.1, -0.5, 0.2, 0.3, -0.3, 0.9, 0.6, -0.3, 0.5, -0.5, 0.3, 0.7, -0.4, 0.5, -0.7, -0.6, 0.4, 0.0,
      -0.4, 0.3, -0.2, 0.0, -0.6, -0.7, -0.6, 0.1, 0.6, 0.3, 0.0, -0.3, -0.2, -0.6, -0.3, -0.5, -0.1, 0.2,
      -0.4, 0.0, 0.1, 0.2, 0.1, -0.3, 0.6, 0.2, -0.1, 0.2, 0.1, -0.3, 0.0, -0.2, -0.2, 0.3, -0.5, 0.7, 0.6,
      -0.4, 0.1, 0.3, -0.5, 0.2, -0.6, 0.2, 0.6, -0.2, 0.5, 0.2, 0.1, 0.2, -0.1, -0.3, 0.2, -0.3, -0.4,
      0.0, -0.5, -0.8, 0.1, -0.3, 0.5, 0.0, 0.3, -0.1, -0.2, -0.1, -0.4, 0.5, 0.7, 0.9, 0.3, -0.4, -0.5,
      -0.6, -0.4, -0.8, -1.0, -1.0, -0.5, 0.0, 0.5]

y_limits = {
    'l1': (-16.5, 83), 'r1': (-23, 10.7), 'l2': (-2.65, 4.35), 'r2': (-4.55, 9.0),
    'l3': (-1.46, 1.19), 'r3': (-1.93, 1.85), 'l4': (-2.66, 3.07), 'r4': (-1.87, 1.66),
    'l5': (-3.65, 3.34), 'r5': (-1.75, 1.48), 'l6': (-1.06, 1.54), 'r6': (-1.15, 1.04),
    'l7': (-1.04, 2.49), 'r7': (-2.53, 2.72), 'l8': (-1.23, 1.51), 'r8': (-1.03, 1.40),
}
y_steps = {'l1': 20, 'r1': 10, 'l2': 2, 'r2': 2, 'l3': 1, 'r3': 1, 'l4': 2, 'r4': 1,
           'l5': 2, 'r5': 1, 'l6': 1, 'r6': 1, 'l7': 1, 'r7': 2, 'l8': 1, 'r8': 1}


def as_xy(name):
    # regularly read traces are spread over the sample range they were read from
    if name == 'l1':
        x, y = zip(*l1)
        return np.array(x), np.array(y)
    if name == 'r2':
        tx, ty = zip(*r2_tail)
        return (np.concatenate([np.arange(len(r2_head)), tx]),
                np.concatenate([r2_head, ty]))
    y = np.array(globals()[name], dtype=float)
    if name in ('l2', 'l3', 'l5'):
        return np.arange(len(y)), y
    return np.linspace(0.5, 225, len(y)), y


plt.rcParams['font.family'] = FONT
plt.rcParams['font.size'] = 11.5

W, H = 741, 985
fig = plt.figure(figsize=(W / 100, H / 100), dpi=100)

rows_px = [(4, 87), (128, 211), (250, 334), (370, 454), (489, 573), (616, 699), (736, 818), (854, 938)]
cols_px = [(23.3, 350.7), (412.7, 739.8)]

for i, (top, bot) in enumerate(rows_px):
    for j, (lft, rgt) in enumerate(cols_px):
        name = ('l', 'r')[j] + str(i + 1)
        ax = fig.add_axes([lft / W, 1 - bot / H, (rgt - lft) / W, (bot - top) / H])
        x, y = as_xy(name)
        ax.plot(x, y, color=LINE, lw=1.0)
        ax.set_xlim(0, 225)
        ax.set_ylim(*y_limits[name])
        ax.xaxis.set_major_locator(MultipleLocator(50))
        ax.yaxis.set_major_locator(MultipleLocator(y_steps[name]))
        ax.tick_params(direction='in', top=True, right=True, length=4, width=0.8,
                       pad=3, labelsize=11.5, colors='black')
        for s in ax.spines.values():
            s.set_linewidth(0.9)
            s.set_color('#222222')
        if i == 7:
            ax.set_xlabel('Samples', fontsize=12, labelpad=4)

fig.savefig('out.png', dpi=100)
